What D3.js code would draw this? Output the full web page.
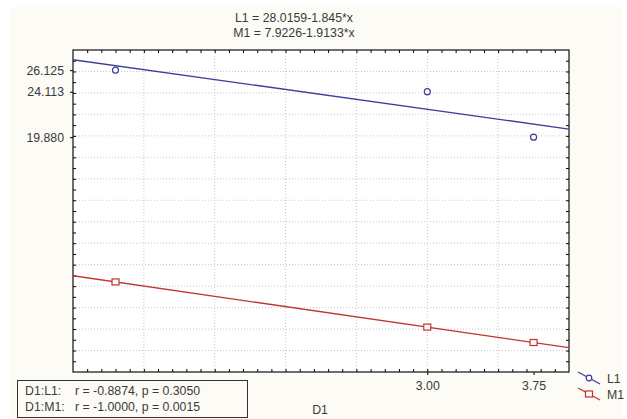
<!DOCTYPE html>
<html>
<head>
<meta charset="utf-8">
<script src="https://cdn.jsdelivr.net/npm/d3@7"></script>
<style>
  html, body { margin: 0; padding: 0; background: #ffffff; }
  svg text { font-family: "Liberation Sans", Arial, sans-serif; fill: #3a3a3a; }
</style>
</head>
<body>
<div id="chart"></div>
<script>
// data
const xValues = [0.8, 3.0, 3.75];
const l1Values = [26.125, 24.113, 19.880];
const m1Values = [6.392, 2.183, 0.748];
const l1Fit = [28.0159, -1.845];
const m1Fit = [7.9226, -1.9133];
const yTickLabels = [26.125, 24.113, 19.880];
const xTickLabels = [3.00, 3.75];
const titleLines = ['L1 = 28.0159-1.845*x', 'M1 = 7.9226-1.9133*x'];
const statLines = [['D1:L1:', 'r = -0.8874, p = 0.3050'], ['D1:M1:', 'r = -1.0000, p = 0.0015']];

const W = 627, H = 419;
const plot = { left: 73, top: 50, right: 569, bottom: 372 };
const blue = '#3b3f9a', red = '#c0352d';
const fs = 12.3;

const svg = d3.select('#chart').append('svg')
  .attr('width', W).attr('height', H);

// cream panel
svg.append('rect').attr('x', 10).attr('y', 7).attr('width', 613).attr('height', H - 7)
  .attr('fill', '#fcfbf6');

const x = d3.scaleLinear().domain([0.5, 4.0]).range([plot.left, plot.right]);
const y = d3.scaleLinear().domain([-2, 28]).range([plot.bottom, plot.top]);

svg.append('rect')
  .attr('x', plot.left).attr('y', plot.top)
  .attr('width', plot.right - plot.left).attr('height', plot.bottom - plot.top)
  .attr('fill', '#ffffff');

// grid
const grid = svg.append('g').attr('stroke', '#c8c8c8').attr('stroke-dasharray', '1,2');
d3.range(1, 3.51, 0.5).forEach(v => {
  grid.append('line').attr('x1', x(v)).attr('x2', x(v))
    .attr('y1', plot.top).attr('y2', plot.bottom);
});
d3.range(0, 26.1, 2).forEach(v => {
  grid.append('line').attr('x1', plot.left).attr('x2', plot.right)
    .attr('y1', y(v)).attr('y2', y(v));
});

// axes with inward minor ticks
const xMinor = d3.range(6, 40).map(d => d / 10);
const yMinor = d3.range(-1, 28);
svg.append('g').attr('transform', 'translate(0,' + plot.bottom + ')')
  .call(d3.axisTop(x).tickValues(xMinor).tickSize(3).tickFormat(''))
  .call(g => g.select('.domain').remove());
svg.append('g').attr('transform', 'translate(0,' + plot.top + ')')
  .call(d3.axisBottom(x).tickValues(xMinor).tickSize(3).tickFormat(''))
  .call(g => g.select('.domain').remove());
svg.append('g').attr('transform', 'translate(' + plot.left + ',0)')
  .call(d3.axisRight(y).tickValues(yMinor).tickSize(3).tickFormat(''))
  .call(g => g.select('.domain').remove());
svg.append('g').attr('transform', 'translate(' + plot.right + ',0)')
  .call(d3.axisLeft(y).tickValues(yMinor).tickSize(3).tickFormat(''))
  .call(g => g.select('.domain').remove());

// labelled ticks
svg.append('g').attr('transform', 'translate(' + plot.left + ',0)')
  .call(d3.axisLeft(y).tickValues(yTickLabels).tickSize(3).tickPadding(6).tickFormat(d3.format('.3f')))
  .call(g => g.select('.domain').remove())
  .call(g => g.selectAll('text').attr('font-size', fs));
svg.append('g').attr('transform', 'translate(0,' + plot.bottom + ')')
  .call(d3.axisBottom(x).tickValues(xTickLabels).tickSize(3).tickPadding(6).tickFormat(d3.format('.2f')))
  .call(g => g.select('.domain').remove())
  .call(g => g.selectAll('text').attr('font-size', fs));

svg.append('rect')
  .attr('x', plot.left).attr('y', plot.top)
  .attr('width', plot.right - plot.left).attr('height', plot.bottom - plot.top)
  .attr('fill', 'none').attr('stroke', '#111').attr('stroke-width', 1.2);

// fit lines
svg.append('clipPath').attr('id', 'clip').append('rect')
  .attr('x', plot.left).attr('y', plot.top)
  .attr('width', plot.right - plot.left).attr('height', plot.bottom - plot.top);
const lines = svg.append('g').attr('clip-path', 'url(#clip)');
[[l1Fit, blue], [m1Fit, red]].forEach(([f, c]) => {
  const dom = x.domain();
  lines.append('line')
    .attr('x1', x(dom[0])).attr('y1', y(f[0] + f[1] * dom[0]))
    .attr('x2', x(dom[1])).attr('y2', y(f[0] + f[1] * dom[1]))
    .attr('stroke', c).attr('stroke-width', 1.3);
});

// points
svg.selectAll('.pl1').data(xValues).enter().append('circle')
  .attr('cx', (d) => x(d)).attr('cy', (d, i) => y(l1Values[i]))
  .attr('r', 3).attr('fill', '#fff').attr('stroke', blue).attr('stroke-width', 1.2);
svg.selectAll('.pm1').data(xValues).enter().append('rect')
  .attr('x', (d) => x(d) - 3.5).attr('y', (d, i) => y(m1Values[i]) - 3)
  .attr('width', 7).attr('height', 6)
  .attr('fill', '#fff').attr('stroke', red).attr('stroke-width', 1.2);

// title
svg.selectAll('.title').data(titleLines).enter().append('text')
  .attr('x', 294).attr('y', (d, i) => 22 + i * 15)
  .attr('text-anchor', 'middle').attr('font-size', fs)
  .text(d => d);

// axis title
svg.append('text').attr('x', 320).attr('y', 414).attr('text-anchor', 'middle')
  .attr('font-size', fs).text('D1');

// stats box
svg.append('rect').attr('x', 17.5).attr('y', 380.5).attr('width', 230).attr('height', 37)
  .attr('fill', '#fcfbf6').attr('stroke', '#333');
statLines.forEach((s, i) => {
  svg.append('text').attr('x', 25).attr('y', 394.5 + i * 16).attr('font-size', fs).text(s[0]);
  svg.append('text').attr('x', 75).attr('y', 394.5 + i * 16).attr('font-size', fs).text(s[1]);
});

// legend
const legend = [['L1', blue, 'circle'], ['M1', red, 'square']];
legend.forEach((l, i) => {
  const g = svg.append('g').attr('transform', 'translate(0,' + (i * 16) + ')');
  g.append('line').attr('x1', 578).attr('y1', 372).attr('x2', 600).attr('y2', 384)
    .attr('stroke', l[1]).attr('stroke-width', 1.2);
  if (l[2] === 'circle') {
    g.append('circle').attr('cx', 589).attr('cy', 378).attr('r', 2.8)
      .attr('fill', '#fff').attr('stroke', l[1]).attr('stroke-width', 1.2);
  } else {
    g.append('rect').attr('x', 585.5).attr('y', 375).attr('width', 7).attr('height', 6)
      .attr('fill', '#fff').attr('stroke', l[1]).attr('stroke-width', 1.2);
  }
  g.append('text').attr('x', 607).attr('y', 383).attr('font-size', fs).text(l[0]);
});
</script>
</body>
</html>
